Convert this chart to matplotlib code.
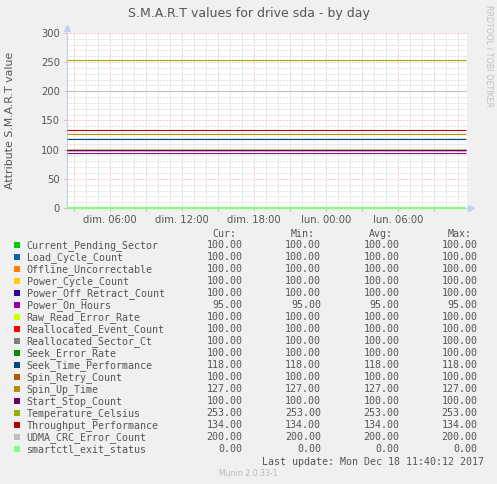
import matplotlib
matplotlib.use("Agg")
import matplotlib.pyplot as plt
import matplotlib.dates as mdates
from matplotlib.patches import Rectangle
from matplotlib.ticker import MultipleLocator, FuncFormatter
from datetime import datetime

# series shown in the graph (flat for the whole day)
names = ["Current_Pending_Sector", "Load_Cycle_Count", "Offline_Uncorrectable",
         "Power_Cycle_Count", "Power_Off_Retract_Count", "Power_On_Hours",
         "Raw_Read_Error_Rate", "Reallocated_Event_Count", "Reallocated_Sector_Ct",
         "Seek_Error_Rate", "Seek_Time_Performance", "Spin_Retry_Count",
         "Spin_Up_Time", "Start_Stop_Count", "Temperature_Celsius",
         "Throughput_Performance", "UDMA_CRC_Error_Count", "smartctl_exit_status"]
cur = [100, 100, 100, 100, 100, 95, 100, 100, 100, 100, 118, 100, 127, 100, 253, 134, 200, 0]
mins = [100, 100, 100, 100, 100, 95, 100, 100, 100, 100, 118, 100, 127, 100, 253, 134, 200, 0]
avgs = [100, 100, 100, 100, 100, 95, 100, 100, 100, 100, 118, 100, 127, 100, 253, 134, 200, 0]
maxs = [100, 100, 100, 100, 100, 95, 100, 100, 100, 100, 118, 100, 127, 100, 253, 134, 200, 0]
colors = ["#00CC00", "#0066B3", "#FF8000", "#FFCC00", "#330099", "#990099",
          "#CCFF00", "#FF0000", "#808080", "#008F00", "#00487D", "#B35A00",
          "#B38F00", "#6B006B", "#8FB300", "#B30000", "#BEBEBE", "#80FF80"]

t_start = datetime(2017, 12, 17, 2, 24)
t_end = datetime(2017, 12, 18, 11, 44)
t_data = [datetime(2017, 12, 17, 2, 24), datetime(2017, 12, 18, 11, 40)]
days_fr = ["lun.", "mar.", "mer.", "jeu.", "ven.", "sam.", "dim."]

W, H = 497, 484
fig = plt.figure(figsize=(W / 100, H / 100), dpi=100, facecolor="#F0F0F0")

# plot area in pixels: x 66.7..466.7, y 33..208
ax = fig.add_axes([66.7 / W, 1 - 208 / H, 400 / W, 175 / H])
ax.set_facecolor("white")

for v, c in zip(cur, colors):
    lw = 1.6 if v == 0 else 0.8
    ax.plot(t_data, [v, v], color=c, lw=lw, solid_capstyle="butt",
            clip_on=(v != 0), zorder=3)

ax.set_xlim(t_start, t_end)
ax.set_ylim(0, 300)

ax.yaxis.set_major_locator(MultipleLocator(50))
ax.yaxis.set_minor_locator(MultipleLocator(10))
ax.xaxis.set_major_locator(mdates.HourLocator(byhour=range(0, 24, 3)))
ax.xaxis.set_minor_locator(mdates.HourLocator())


def fmt_time(x, pos):
    d = mdates.num2date(x)
    if d.hour % 6:
        return ""
    return "%s %02d:00" % (days_fr[d.weekday()], d.hour)


ax.xaxis.set_major_formatter(FuncFormatter(fmt_time))

ax.grid(which="major", color="#EEA0A0", lw=0.72, linestyle=(0, (1, 2)), zorder=1)
ax.grid(which="minor", color="#C6C6C6", lw=0.72, linestyle=(0, (1, 2)), zorder=1)
ax.set_axisbelow(True)

for s in ["top", "right"]:
    ax.spines[s].set_visible(False)
for s in ["left", "bottom"]:
    ax.spines[s].set_color("#C8CCF0")
    ax.spines[s].set_linewidth(0.8)

ax.tick_params(which="both", length=2, width=0.6, color="#F0A0A0",
               labelsize=7.2, labelcolor="#555555", pad=3)
ax.tick_params(which="minor", length=1, color="#C8C8C8")
ax.plot([0], [1.03], marker="^", ms=4, color="#C8CCF0", transform=ax.transAxes,
        clip_on=False)
ax.plot([1.0095], [0], marker=">", ms=4, color="#C8CCF0", transform=ax.transAxes,
        clip_on=False)

# overlay in pixel coordinates for title, axis label and legend
ov = fig.add_axes([0, 0, 1, 1], facecolor="none")
ov.set_xlim(0, W)
ov.set_ylim(H, 0)
ov.axis("off")

ov.text(248.5, 14, "S.M.A.R.T values for drive sda - by day", ha="center",
        va="center", fontsize=9.0, color="#555555")
ov.text(10.5, 120, "Attribute S.M.A.R.T value", rotation=90, ha="center",
        va="center", fontsize=7.9, color="#555555")
ov.text(489, 5, "RRDTOOL / TOBI OETIKER", rotation=270, ha="center", va="top",
        fontsize=5.8, color="#C0C0C0")

mono = dict(family="DejaVu Sans Mono", fontsize=7.2, color="#555555", va="center")
col_x = [242.3, 321, 399.3, 477.3]
for x, hdr in zip(col_x, ["Cur:", "Min:", "Avg:", "Max:"]):
    ov.text(x - 6, 234, hdr, ha="right", **mono)

for i, name in enumerate(names):
    y = 245.3 + 12 * i
    ov.add_patch(Rectangle((14, y - 3), 6, 6, facecolor=colors[i], edgecolor="none"))
    ov.text(26.5, y, name, ha="left", **mono)
    for x, vals in zip(col_x, [cur, mins, avgs, maxs]):
        ov.text(x, y, "%.2f" % vals[i], ha="right", **mono)

ov.text(483.5, 461.7, "Last update: Mon Dec 18 11:40:12 2017", ha="right", **mono)
ov.text(248.5, 473.5, "Munin 2.0.33-1", ha="center", va="center", fontsize=5.6,
        color="#B8B8B8")

fig.savefig("out.png", dpi=100, facecolor=fig.get_facecolor())
